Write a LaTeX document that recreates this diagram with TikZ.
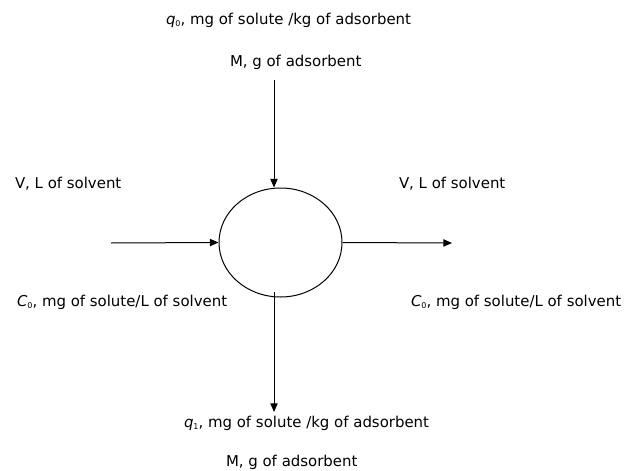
\documentclass[tikz,border=0pt]{standalone}
\usepackage{fontspec}
\setmainfont{DejaVu Sans}
\usetikzlibrary{arrows.meta,shapes.geometric}
\newcommand{\lowsub}[1]{\raisebox{-0.3ex}{\fontsize{6pt}{6pt}\selectfont #1}}
\begin{document}
\begin{tikzpicture}[x=0.75pt,y=-0.75pt,
  lbl/.style={inner sep=0pt,outer sep=0pt,font=\fontsize{11.2pt}{13pt}\selectfont,anchor=west},
  flow/.style={line width=0.75pt,-{Triangle[length=6.5pt,width=5.5pt]}},
  vessel/.style={ellipse,draw,line width=0.75pt,minimum width=92.25pt,minimum height=81.75pt,inner sep=0pt}]
\useasboundingbox (0,0) rectangle (630,470);
\node[vessel] (ell) at (280.5,242.5) {};
% free ends
\coordinate (leftin) at (111,243);
\coordinate (rightout) at (452,243);
\coordinate (topin) at (274,80);
\coordinate (botstart) at (274,292);
\coordinate (botout) at (274,412);
% connectors
\draw[flow] (leftin) -- (ell.west);
\draw[flow] (ell.east) -- (rightout);
\draw[flow] (topin) -- (topin |- ell.north);
\draw[flow] (botstart) -- (botout);
% labels
\node[lbl] (q0) at (166,20) {\textit{q}\lowsub{0}, mg of solute /kg of adsorbent};
\node[lbl] (mtop) at (230,62) {M, g of adsorbent};
\node[lbl] (vleft) at (15,184) {V, L of solvent};
\node[lbl] (vright) at (399,184) {V, L of solvent};
\node[lbl] (cleft) at (17,302) {\textit{C}\lowsub{0}, mg of solute/L of solvent};
\node[lbl] (cright) at (411,302) {\textit{C}\lowsub{0}, mg of solute/L of solvent};
\node[lbl] (q1) at (184,423) {\textit{q}\lowsub{1}, mg of solute /kg of adsorbent};
\node[lbl] (mbot) at (226,462) {M, g of adsorbent};
\end{tikzpicture}
\end{document}
